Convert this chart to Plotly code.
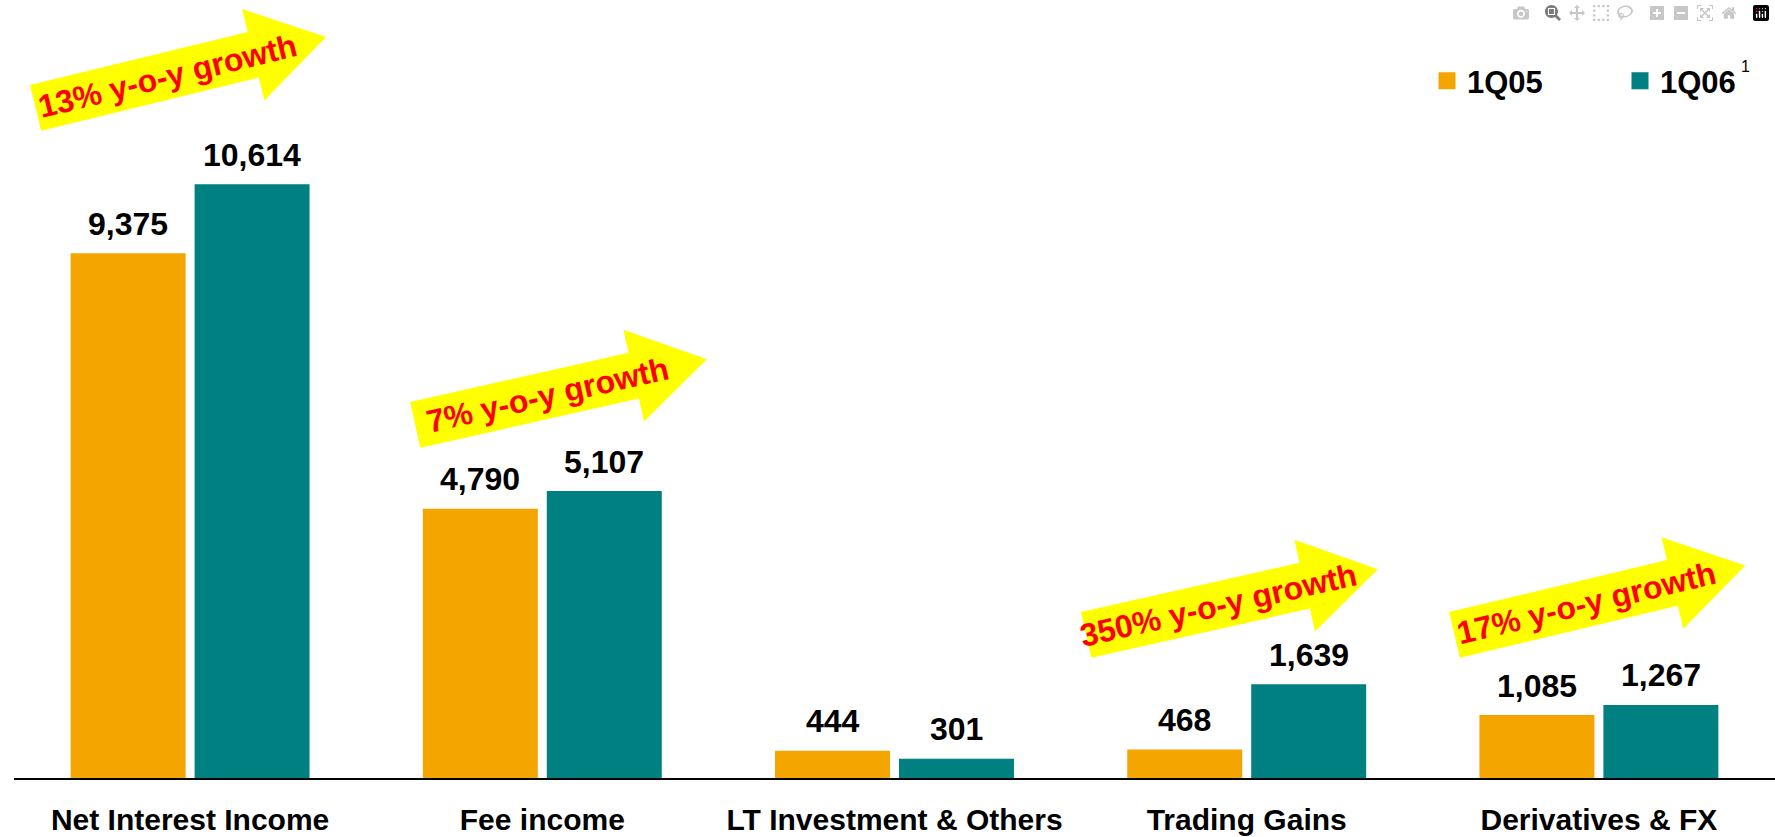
import math
import plotly.graph_objects as go

# ---------------- data ----------------
categories = ["Net Interest Income", "Fee income", "LT Investment & Others",
              "Trading Gains", "Derivatives & FX"]
q105 = [9375, 4790, 444, 468, 1085]
q106 = [10614, 5107, 301, 1639, 1267]
growth_labels = ["13% y-o-y growth", "7% y-o-y growth", "",
                 "350% y-o-y growth", "17% y-o-y growth"]
series_names = ["1Q05", "1Q06"]
footnote_mark = "1"

# ---------------- styling / layout ----------------
FIG_W, FIG_H = 1775, 837
ML, MR, MT, MB = 14, 0, 0, 59
PW, PH = FIG_W - ML - MR, FIG_H - MT - MB
PX_PER_UNIT = 0.0557
YMAX = PH / PX_PER_UNIT
BAR_LW = 5
BARGAP, BARGROUPGAP = 0.296, 0.113
ORANGE, TEAL = "#F5A500", "#008080"
FONT = "Liberation Sans, Arial, sans-serif"

fig = go.Figure()
fig.add_trace(go.Bar(name="<b>" + series_names[0] + "</b>", x=categories, y=q105,
                     marker=dict(color=ORANGE, line=dict(width=BAR_LW, color=ORANGE)),
                     legend="legend"))
fig.add_trace(go.Bar(name="<b>" + series_names[1] + "</b>", x=categories, y=q106,
                     marker=dict(color=TEAL, line=dict(width=BAR_LW, color=TEAL)),
                     legend="legend2"))

# value labels above bars
cat_px = PW / len(categories)
slot_px = cat_px * (1 - BARGAP) / 2
annotations = []
for series, sgn in ((q105, -1), (q106, 1)):
    for c, v in zip(categories, series):
        annotations.append(dict(x=c, y=v, xref="x", yref="y", text="<b>{:,}</b>".format(v),
                                showarrow=False, xanchor="center", yanchor="bottom",
                                xshift=sgn * slot_px / 2, yshift=12,
                                font=dict(family=FONT, size=32, color="black")))

# growth arrows (decorations), positioned in pixel space
def px2paper(px, py):
    return (px - ML) / PW, 1 - (py - MT) / PH

ARROW_L, ARROW_F, ARROW_H, ARROW_T = 224, 23.5, 75, 47
arrow_pos = [(30, 85, 13.7), (410, 402, 12.7), None, (1081, 612, 12.7), (1449, 612, 13.4)]
shapes = []
for lab, pos in zip(growth_labels, arrow_pos):
    if pos is None or not lab:
        continue
    x0, y0, ang = pos
    a = math.radians(ang)
    ca, sa = math.cos(a), math.sin(a)
    local = [(0, 0), (ARROW_L, 0), (ARROW_L, -ARROW_F), (ARROW_L + ARROW_H, ARROW_T / 2),
             (ARROW_L, ARROW_T + ARROW_F), (ARROW_L, ARROW_T), (0, ARROW_T)]
    pts = []
    for u, v in local:
        px = x0 + u * ca + v * sa
        py = y0 - u * sa + v * ca
        pts.append(px2paper(px, py))
    path = "M " + " L ".join("{:.5f},{:.5f}".format(p[0], p[1]) for p in pts) + " Z"
    shapes.append(dict(type="path", path=path, xref="paper", yref="paper",
                       fillcolor="#FFFF00", line=dict(width=0), layer="above"))
    u, v = 136, ARROW_T / 2
    tx, ty = px2paper(x0 + u * ca + v * sa, y0 - u * sa + v * ca)
    annotations.append(dict(x=tx, y=ty, xref="paper", yref="paper", text="<b>" + lab + "</b>",
                            showarrow=False, xanchor="center", yanchor="middle",
                            textangle=-ang, font=dict(family=FONT, size=32, color="#FF0000")))

# footnote mark next to the 1Q06 legend entry
fx, fy = px2paper(1745, 66)
annotations.append(dict(x=fx, y=fy, xref="paper", yref="paper", text=footnote_mark,
                        showarrow=False, xanchor="center", yanchor="middle",
                        font=dict(family=FONT, size=16, color="black")))

legend_common = dict(orientation="h", xanchor="left", yanchor="middle", y=1 - 81 / PH,
                     font=dict(family=FONT, size=31, color="black"),
                     bgcolor="rgba(0,0,0,0)", borderwidth=0)

fig.update_layout(
    width=FIG_W, height=FIG_H, autosize=False,
    margin=dict(l=ML, r=MR, t=MT, b=MB, pad=0, autoexpand=False),
    paper_bgcolor="white", plot_bgcolor="white",
    barmode="group", bargap=BARGAP, bargroupgap=BARGROUPGAP,
    font=dict(family=FONT, color="black"),
    showlegend=True,
    legend=dict(x=(1427 - ML) / PW, **legend_common),
    legend2=dict(x=(1620 - ML) / PW, **legend_common),
    xaxis=dict(showline=True, linecolor="black", linewidth=2, ticks="",
               tickfont=dict(family=FONT, size=30, color="black", weight="bold"),
               ticklabelstandoff=14, automargin=False,
               showgrid=False, zeroline=False, fixedrange=True),
    yaxis=dict(visible=False, range=[0, YMAX], showgrid=False, zeroline=False,
               automargin=False),
    shapes=shapes, annotations=annotations,
)

fig.write_html("out.html", post_script="document.body.style.margin='0';")
